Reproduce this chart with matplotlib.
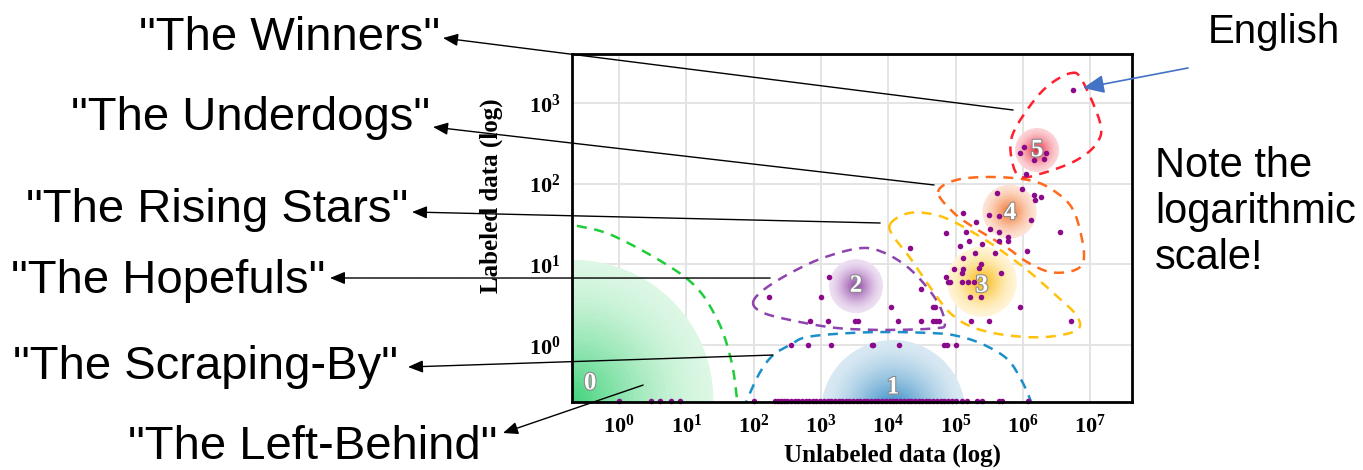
import numpy as np
import matplotlib
matplotlib.use("Agg")
import matplotlib.pyplot as plt
import matplotlib.patheffects as pe
from matplotlib.colors import to_rgb

plt.rcParams['mathtext.fontset'] = 'custom'
plt.rcParams['mathtext.bf'] = 'Liberation Serif:bold'
plt.rcParams['mathtext.rm'] = 'Liberation Serif:bold'

# languages: log10(unlabeled), log10(labeled)
lang_x = [2.22, 3.00, 3.125, 4.04, 4.49, 4.67, 4.70, 4.32, 5.95,
          2.84, 3.11, 3.51, 3.55, 4.15, 4.49, 4.67, 4.71, 4.75, 5.23, 5.50, 6.71,
          5.21, 5.38, 4.89, 4.92, 5.10, 5.19, 5.27, 4.86, 5.10, 5.68,
          4.98, 5.107, 5.34, 5.38, 5.107, 5.29, 5.58, 6.06, 5.07, 5.39,
          5.78, 5.65, 5.20, 5.78, 4.86, 5.64, 6.55, 5.15, 5.51, 5.30,
          6.12, 5.65, 5.50, 5.107, 6.18, 6.27, 6.17, 5.62, 5.98,
          6.05, 6.17, 6.31, 6.34, 5.95, 6.01, 6.74]
lang_y = [0.60, 0.60, 0.846, 0.475, 0.698, 0.475, 0.475, 1.198, 0.475,
          0.30, 0.30, 0.30, 0.30, 0.30, 0.30, 0.30, 0.30, 0.30, 0.30, 0.30, 0.30,
          0.60, 0.60, 0.78, 0.78, 0.78, 0.78, 0.78, 0.846, 0.896, 0.896,
          0.946, 0.946, 0.95, 1.004, 1.078, 1.14, 1.14, 1.17, 1.227, 1.25,
          1.289, 1.293, 1.293, 1.334, 1.384, 1.396, 1.396, 1.40, 1.44, 1.528,
          1.553, 1.60, 1.607, 1.64, 1.797, 1.838, 1.855, 1.887, 1.933,
          2.12, 2.29, 2.31, 2.375, 2.383, 2.45, 3.156]

# languages with exactly one labeled example
one_x = [2.55, 2.81, 3.15, 3.75, 3.77, 4.16, 4.83, 4.87, 5.01]

# languages with no labeled data (sit on the x axis)
zero_x = [0.0, 0.48, 0.60, 0.77, 0.90, 2.01, 2.32, 2.36, 2.41, 2.45, 2.50, 2.55,
          2.61, 2.66, 2.71, 2.77, 2.82, 2.88, 2.93, 2.99, 3.04, 3.10, 3.15, 3.21,
          3.26, 3.31, 3.37, 3.42, 3.48, 3.53, 3.58, 3.64, 3.69, 3.74, 3.80, 3.85,
          3.91, 3.96, 4.02, 4.07, 4.12, 4.18, 4.23, 4.29, 4.34, 4.40, 4.45, 4.50,
          4.56, 4.61, 4.67, 4.72, 4.78, 4.83, 4.89, 4.94, 5.00, 5.09, 5.17, 5.32,
          5.39, 5.64, 5.69, 6.07]
zero_level = -0.69

# cluster blobs: centre (log x, log y), radius px, edge colour, centre colour
blob_x = [-0.68, 4.07, 3.52, 5.39, 5.80, 6.21]
blob_y = [-0.68, -0.83, 0.73, 0.785, 1.652, 2.416]
blob_r = [140, 72, 27, 35, 27, 22]
blob_edge = ['#dcf7e4', '#d9e9f3', '#eee0f2', '#fff4d6', '#fde3d6', '#fbd3d7']
blob_core = ['#3fd27a', '#1f7fbf', '#8a3aa3', '#f7b500', '#f26b1d', '#ea1f33']
label_x = [-0.43, 4.07, 3.52, 5.39, 5.81, 6.21]
label_y = [-0.47, -0.52, 0.74, 0.74, 1.64, 2.42]

# dashed cluster outlines (log coordinates)
green_line = ([-0.88, -0.68, -0.045, 0.996, 1.44, 1.664, 1.753, 1.77],
              [1.524, 1.487, 1.338, 0.83, 0.347, -0.186, -0.68, -0.805])
blue_line = ([1.857, 1.90, 2.095, 2.29, 2.54, 2.79, 3.43, 4.03, 4.62, 4.96, 5.36, 5.75, 5.96, 6.11, 6.14],
             [-0.805, -0.68, -0.335, -0.124, 0.0, 0.099, 0.149, 0.161, 0.149, 0.124, 0.025, -0.161, -0.409, -0.68, -0.805])
purple_loop = ([1.99, 2.14, 2.54, 3.03, 3.58, 3.92, 4.28, 4.58, 4.77, 4.84, 4.72, 4.28, 3.68, 3.14, 2.54, 2.14],
               [0.52, 0.68, 0.89, 1.08, 1.20, 1.15, 0.97, 0.71, 0.47, 0.25, 0.21, 0.19, 0.19, 0.22, 0.31, 0.40])
yellow_loop = ([4.027, 4.25, 4.547, 4.918, 5.513, 6.062, 6.449, 6.79, 6.805, 6.33, 5.735, 5.245, 4.918, 4.65, 4.324, 4.07],
               [1.499, 1.623, 1.636, 1.549, 1.264, 0.929, 0.644, 0.372, 0.186, 0.099, 0.124, 0.223, 0.397, 0.682, 1.078, 1.351])
orange_loop = ([4.74, 5.01, 5.557, 6.15, 6.508, 6.746, 6.88, 6.895, 6.73, 6.40, 6.06, 5.75, 5.26, 4.96],
               [1.896, 2.045, 2.082, 2.032, 1.883, 1.673, 1.301, 1.029, 0.917, 0.905, 1.029, 1.214, 1.462, 1.648])
red_loop = ([6.70, 6.875, 7.147, 7.098, 6.80, 6.30, 5.96, 5.835, 5.835, 6.06, 6.355],
            [3.367, 3.284, 2.751, 2.503, 2.292, 2.131, 2.086, 2.292, 2.581, 2.912, 3.20])

# annotations: text, arrow tail in the plot (log), arrow head and text baseline (pixels)
names = ['"The Winners"', '"The Underdogs"', '"The Rising Stars"',
         '"The Hopefuls"', '"The Scraping-By"', '"The Left-Behind"']
tail_x = [5.854, 4.68, 3.878, 2.244, 2.288, 0.357]
tail_y = [2.912, 1.983, 1.512, 0.83, -0.124, -0.496]
head_px = [(443, 38), (433, 127), (412, 212), (330, 278), (408, 367), (503, 433)]
text_px = [(440, 50), (430, 130), (408, 222), (325, 293), (398, 379), (497, 459)]

W, H = 1363, 470


def fx(px):
    return px / W


def fy(py):
    return 1 - py / H


def catmull(xs, ys, closed=True, n=24):
    P = np.column_stack([xs, ys]).astype(float)
    if not closed:
        P = np.vstack([P[0], P, P[-1]])
    m = len(P)
    segs = []
    rng = range(m) if closed else range(1, m - 2)
    t = np.linspace(0, 1, n, endpoint=False)[:, None]
    for i in rng:
        p0, p1, p2, p3 = P[i - 1], P[i], P[(i + 1) % m], P[(i + 2) % m]
        segs.append(0.5 * (2 * p1 + (-p0 + p2) * t + (2 * p0 - 5 * p1 + 4 * p2 - p3) * t ** 2
                           + (-p0 + 3 * p1 - 3 * p2 + p3) * t ** 3))
    segs.append(P[:1] if closed else P[-2:-1])
    out = np.vstack(segs)
    return 10 ** out[:, 0], 10 ** out[:, 1]


fig = plt.figure(figsize=(W / 100, H / 100), dpi=100)
ax = fig.add_axes([fx(572), fy(402), 560 / W, 348 / H])
ax.set_xscale('log')
ax.set_yscale('log')
ax.set_xlim(10 ** -0.70, 10 ** 7.62)
ax.set_ylim(10 ** -0.706, 10 ** 3.606)
ax.minorticks_off()
ax.grid(True, color='#e2e2e2', lw=1.3, zorder=0)
ax.set_axisbelow(True)

# blobs with radial gradient
for cx, cy, r, ce, cc in zip(blob_x, blob_y, blob_r, blob_edge, blob_core):
    e, c = np.array(to_rgb(ce)), np.array(to_rgb(cc))
    n = 30
    for k in range(n):
        frac = k / n
        rad = r * (1 - frac) * 0.72
        col = e + (c - e) * frac ** 1.5
        ax.scatter([10 ** cx], [10 ** cy], s=(2 * rad) ** 2, color=col,
                   edgecolors='none', zorder=1)

# outlines
dash = (0, (4, 3))
for (xs, ys), col, closed in [(green_line, '#1fcc3a', False), (blue_line, '#1b8fc9', False),
                              (purple_loop, '#8e44ad', True), (yellow_loop, '#ffc10a', True),
                              (orange_loop, '#ff6a1c', True), (red_loop, '#ff1f2f', True)]:
    sx, sy = catmull(xs, ys, closed)
    ax.plot(sx, sy, color=col, lw=1.8, linestyle=dash, zorder=2)

# language points
pt_col = '#8b0a8b'
ax.scatter(10 ** np.array(lang_x), 10 ** np.array(lang_y), s=16, color=pt_col, zorder=3, lw=0)
ax.scatter(10 ** np.array(one_x), np.ones(len(one_x)), s=16, color=pt_col, zorder=3, lw=0)
ax.scatter(10 ** np.array(zero_x), np.full(len(zero_x), 10 ** zero_level), s=16,
           color=pt_col, zorder=3, lw=0, clip_on=False)

for i, (lx, ly) in enumerate(zip(label_x, label_y)):
    ax.text(10 ** lx, 10 ** ly, str(i), ha='center', va='center', fontsize=18,
            family='Liberation Serif', fontweight='bold', color='white', zorder=4,
            path_effects=[pe.withStroke(linewidth=1.6, foreground='#8a8a8a')])

for s in ax.spines.values():
    s.set_linewidth(2)
    s.set_zorder(5)

ticks_x = list(range(8))
ticks_y = list(range(4))
ax.set_xticks([10 ** k for k in ticks_x])
ax.set_xticklabels([r'$\mathbf{10^{%d}}$' % k for k in ticks_x])
ax.set_yticks([10 ** k for k in ticks_y])
ax.set_yticklabels([r'$\mathbf{10^{%d}}$' % k for k in ticks_y])
ax.tick_params(length=0, labelsize=16, pad=8)
ax.set_xlabel('Unlabeled data (log)', fontsize=18, family='Liberation Serif', fontweight='bold')
ax.xaxis.set_label_coords(0.573, -0.12)
ax.set_ylabel('Labeled data (log)', fontsize=18, family='Liberation Serif', fontweight='bold')
ax.yaxis.set_label_coords(-0.123, 0.592)

# category annotations
arrow = dict(arrowstyle='-|>,head_length=0.6,head_width=0.25', color='black', lw=1,
             mutation_scale=15, shrinkA=0, shrinkB=0)
for name, tx, ty, hp, tp in zip(names, tail_x, tail_y, head_px, text_px):
    ax.annotate('', xy=(fx(hp[0]), fy(hp[1])), xycoords='figure fraction',
                xytext=(10 ** tx, 10 ** ty), textcoords='data', arrowprops=arrow,
                annotation_clip=False, zorder=6)
    fig.text(fx(tp[0]), fy(tp[1]), name, ha='right', va='baseline', fontsize=34,
             family='Liberation Sans')

ax.annotate('', xy=(10 ** 6.894, 10 ** 3.185), xycoords='data',
            xytext=(fx(1188), fy(68)), textcoords='figure fraction',
            arrowprops=dict(arrowstyle='-|>,head_length=0.8,head_width=0.35', color='#4472c4',
                            lw=1.2, mutation_scale=16, shrinkA=0, shrinkB=0),
            annotation_clip=False, zorder=6)
fig.text(fx(1208), fy(43), 'English', ha='left', va='baseline', fontsize=29, family='Liberation Sans')
fig.text(fx(1155), fy(146), 'Note the\nlogarithmic\nscale!', ha='left', va='top', fontsize=30,
         family='Liberation Sans', linespacing=1.2)

fig.savefig('out.png', dpi=100)
